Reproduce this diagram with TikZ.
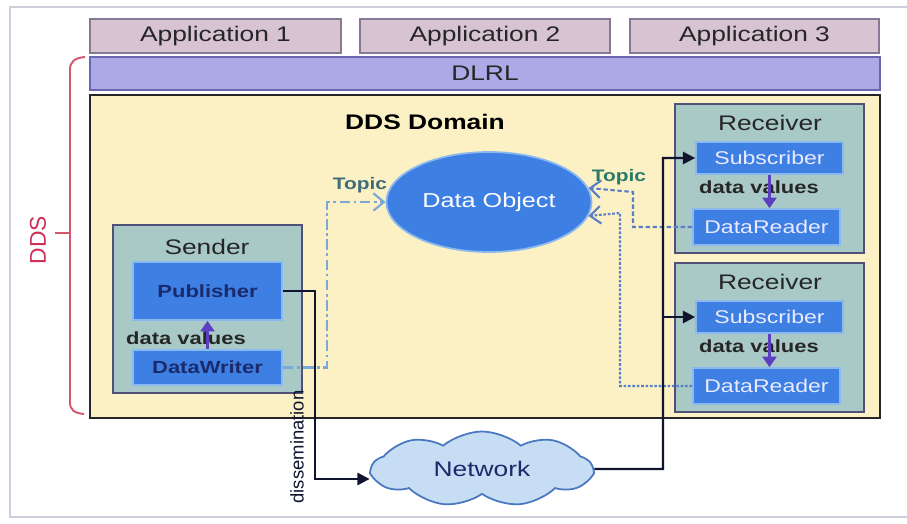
\documentclass[tikz,border=0pt]{standalone}
\usepackage{fontspec}
\setmainfont{Liberation Sans}[FakeStretch=1.25]
\newfontfamily\plainfont{Liberation Sans}
\usetikzlibrary{shapes.geometric,shapes.symbols,arrows.meta,fit}

\definecolor{appfill}{RGB}{215,195,210}
\definecolor{appline}{RGB}{135,120,150}
\definecolor{dlrlfill}{RGB}{171,169,230}
\definecolor{dlrlline}{RGB}{105,103,175}
\definecolor{domfill}{RGB}{251,241,196}
\definecolor{hostfill}{RGB}{168,201,198}
\definecolor{hostline}{RGB}{80,80,120}
\definecolor{infill}{RGB}{61,127,227}
\definecolor{inline}{RGB}{140,184,240}
\definecolor{navy}{RGB}{26,42,107}
\definecolor{feedcol}{RGB}{16,20,46}
\definecolor{valcol}{RGB}{91,63,192}
\definecolor{topicline}{RGB}{122,168,216}
\definecolor{readline}{RGB}{90,127,200}
\definecolor{topicL}{RGB}{62,108,122}
\definecolor{topicR}{RGB}{43,122,104}
\definecolor{bracecol}{RGB}{212,86,112}
\definecolor{ddscol}{RGB}{205,50,85}
\definecolor{cloudfill}{RGB}{199,221,243}
\definecolor{cloudline}{RGB}{74,120,192}
\definecolor{framecol}{RGB}{205,205,220}

\tikzset{
	every node/.style={font=\fontsize{12}{14}\selectfont},
	appbox/.style={draw=appline, fill=appfill, line width=0.8pt, inner sep=0pt},
	dlrlbox/.style={draw=dlrlline, fill=dlrlfill, line width=0.8pt, inner sep=0pt},
	domainbox/.style={draw=black!85, fill=domfill, line width=1pt, inner sep=0pt},
	hostbox/.style={draw=hostline, fill=hostfill, line width=1.2pt, inner sep=0pt},
	boxtext/.style={text=black!85},
	inbox/.style={draw=inline, fill=infill, line width=1pt, inner sep=0pt},
	sendtext/.style={text=navy, font=\fontsize{10}{12}\selectfont\bfseries},
	recvtext/.style={text=blue!8, font=\fontsize{10.5}{12}\selectfont},
	valtext/.style={text=black!85, font=\fontsize{10}{12}\selectfont\bfseries},
	topictext/.style={font=\fontsize{9.5}{11}\selectfont\bfseries},
	feed/.style={draw=feedcol, line width=1.3pt, -{Triangle[length=7pt,width=7pt]}},
	valarrow/.style={draw=valcol, line width=1.3pt, -{Triangle[length=6pt,width=8pt]}},
	topicw/.style={draw=topicline, line width=1.2pt, dash pattern=on 6pt off 2pt on 1.5pt off 2pt, -{Straight Barb[length=6pt,width=10pt]}},
	topicr/.style={draw=readline, line width=1.2pt, dash pattern=on 2.5pt off 1.5pt, -{Straight Barb[length=6pt,width=10pt]}},
	brace/.style={draw=bracecol, line width=1.1pt}
}

\begin{document}
\begin{tikzpicture}[x=0.02cm,y=-0.02cm]
	\useasboundingbox (0,0) rectangle (907,524);
	\draw[framecol, line width=0.8pt] (907,7) -- (10,7) -- (10,517) -- (907,517);

	% layers
	\node[appbox, fit={(90,19) (341,53)}, label={[boxtext]center:Application 1}] (app1) {};
	\node[appbox, fit={(360,19) (610,53)}, label={[boxtext]center:Application 2}] (app2) {};
	\node[appbox, fit={(630,19) (879,53)}, label={[boxtext]center:Application 3}] (app3) {};
	\node[dlrlbox, fit={(90,57) (880,90)}, label={[boxtext]center:DLRL}] (dlrl) {};
	\node[domainbox, fit={(90,95) (880,418)}] (domain) {};
	\node[font=\fontsize{12}{14}\selectfont\bfseries] (dtitle) at (425,122) {DDS Domain};

	% DDS brace
	\draw[brace] (85,57) .. controls (74,58) and (70,62) .. (70,70) -- (70,402) .. controls (70,410) and (74,413) .. (84,414);
	\draw[brace] (55,233) -- (70,233);
	\node[rotate=90, text=ddscol, font=\plainfont\fontsize{13}{15}\selectfont] (dds) at (38,240) {DDS};

	% sender
	\node[hostbox, fit={(113,225) (302,393)}] (sender) {};
	\node[boxtext] (stitle) at (207,247) {Sender};
	\node[inbox, fit={(133,262) (282,320)}, label={[sendtext]center:Publisher}] (pub) {};
	\node[inbox, fit={(133,350) (282,385)}, label={[sendtext]center:DataWriter}] (wr) {};
	\node[valtext, anchor=west] (sval) at (120,338) {data values};
	\draw[valarrow] (wr.north) -- (pub.south);

	% receivers
	\foreach \n/\y in {1/0, 2/159}{
		\node[hostbox, fit={(675,104+\y) (864,253+\y)}] (rec\n) {};
		\node[boxtext] (rtitle\n) at (770,123+\y) {Receiver};
		\node[inbox, fit={(696,142+\y) (843,174+\y)}, label={[recvtext]center:Subscriber}] (sub\n) {};
		\node[inbox, fit={(693,209+\y) (840,245+\y)}, label={[recvtext]center:DataReader}] (rd\n) {};
		\node[valtext, anchor=west] (rval\n) at (693,187+\y) {data values};
		\draw[valarrow] (sub\n.south) -- (sub\n.south |- rd\n.north);
	}

	% data object and network
	\node[ellipse, draw=inline, fill=infill, line width=1pt, minimum width=2.96cm, minimum height=2cm, text=white, font=\fontsize{11.5}{13}\selectfont] (obj) at (489,202) {Data Object};
	\node[cloud, cloud puffs=9, cloud puff arc=80, aspect=3.2, draw=cloudline, fill=cloudfill, line width=1pt, minimum width=4.4cm, minimum height=1.5cm, text=navy] (net) at (482,469) {Network};

	% topic links
	\coordinate (tl) at (327,202);
	\draw[topicw] (wr.east) -| (tl) -- (obj.west);
	\node[topictext, text=topicL] (ltopic) at (360,185) {Topic};
	\coordinate (tr1) at (633,192);
	\coordinate (tr2) at (620,213);
	\draw[topicr] (rd1.west) -| (tr1) -- (obj.8);
	\draw[topicr, dash pattern=on 1.5pt off 1pt] (rd2.west) -| (tr2) -- (obj.-8);
	\node[topictext, text=topicR] (rtopic) at (619,177) {Topic};

	% dissemination
	\coordinate (down) at (315,479);
	\draw[feed] (pub.east) -| (down) -- (down -| net.west);
	\node[rotate=90, text=feedcol, font=\plainfont\fontsize{10.5}{12}\selectfont] (dis) at (297,447) {dissemination};
	\coordinate (fork) at (663,469);
	\draw[feed] (net.east) -- (fork) |- (sub1.west);
	\draw[feed] (fork |- sub2.west) -- (sub2.west);
\end{tikzpicture}
\end{document}
